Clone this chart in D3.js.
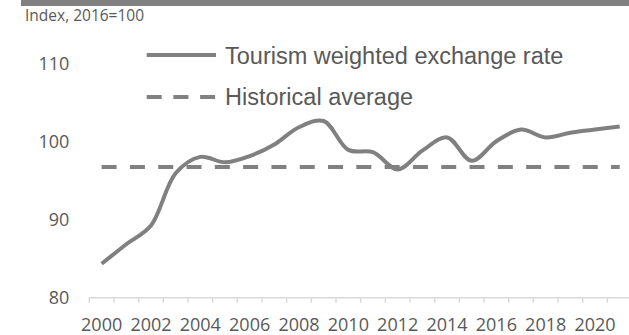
<!DOCTYPE html>
<html>
<head>
<meta charset="utf-8">
<script src="https://cdn.jsdelivr.net/npm/d3@7"></script>
<style>
  body { margin: 0; background: #fff; }
  svg { display: block; }
</style>
</head>
<body>
<svg></svg>
<script>
// size of the picture
var width = 629;
var height = 335;

// data
var years = [2000, 2001, 2002, 2003, 2004, 2005, 2006, 2007, 2008, 2009, 2010,
             2011, 2012, 2013, 2014, 2015, 2016, 2017, 2018, 2019, 2020, 2021];
var tourismRate = [84.3, 86.8, 89.2, 95.9, 98.0, 97.3, 98.1, 99.6, 101.8, 102.6, 98.9,
                   98.6, 96.4, 98.8, 100.5, 97.5, 100.0, 101.5, 100.5, 101.1, 101.5, 101.9];
var historicalAvg = 96.7;
var yTicks = [80, 90, 100, 110];
var legendLabels = ["Tourism weighted exchange rate", "Historical average"];

var lineColor = "#808080";
var textColor = "#595959";

var svg = d3.select("svg")
    .attr("width", width)
    .attr("height", height);

// grey strip on top
svg.append("rect")
    .attr("x", 21)
    .attr("y", 0)
    .attr("width", width - 21)
    .attr("height", 6)
    .attr("fill", "#808080");

svg.append("text")
    .attr("x", 25)
    .attr("y", 20.5)
    .style("font-family", "'Open Sans', sans-serif")
    .style("font-size", "15.5px")
    .attr("fill", textColor)
    .text("Index, 2016=100");

// scales
var x = d3.scaleBand()
    .domain(years)
    .range([89.3, 89.3 + 22 * 24.67]);

var y = d3.scaleLinear()
    .domain([80, 110])
    .range([297.3, 63.3]);

// y axis (labels only)
var yAxis = svg.append("g")
    .attr("transform", "translate(89.3,0)")
    .call(d3.axisLeft(y).tickValues(yTicks).tickSize(0).tickPadding(20));
yAxis.select(".domain").remove();
yAxis.selectAll("text")
    .style("font-family", "'Open Sans', sans-serif")
    .style("font-size", "18px")
    .attr("fill", textColor);

// x axis: line, ticks at band edges, labels on even years
var xAxis = svg.append("g")
    .attr("transform", "translate(0," + y(80) + ")")
    .call(d3.axisBottom(x)
        .tickValues(years.filter(function(d) { return d % 2 == 0; }))
        .tickSize(0)
        .tickPadding(20.5));
xAxis.select(".domain")
    .attr("stroke", "#d9d9d9")
    .attr("stroke-width", 1.5);
xAxis.selectAll("text")
    .style("font-family", "'Open Sans', sans-serif")
    .style("font-size", "18px")
    .attr("fill", textColor);

xAxis.selectAll(".edge")
    .data(years)
    .enter().append("line")
    .attr("class", "edge")
    .attr("x1", function(d) { return x(d); })
    .attr("x2", function(d) { return x(d); })
    .attr("y1", 0)
    .attr("y2", 5.5)
    .attr("stroke", "#d9d9d9")
    .attr("stroke-width", 1.5);

// historical average (dashed)
var avgLine = d3.line()
    .x(function(d) { return x(d) + x.bandwidth() / 2; })
    .y(function() { return y(historicalAvg); });

svg.append("path")
    .datum(years)
    .attr("d", avgLine)
    .attr("fill", "none")
    .attr("stroke", lineColor)
    .attr("stroke-width", 4)
    .attr("stroke-dasharray", "15,13.3");

// tourism weighted exchange rate (smoothed)
var rateLine = d3.line()
    .x(function(d, i) { return x(years[i]) + x.bandwidth() / 2; })
    .y(function(d) { return y(d); })
    .curve(d3.curveCatmullRom.alpha(0.5));

svg.append("path")
    .datum(tourismRate)
    .attr("d", rateLine)
    .attr("fill", "none")
    .attr("stroke", lineColor)
    .attr("stroke-width", 4)
    .attr("stroke-linejoin", "round");

// legend
var legend = svg.append("g");
var legendRows = [{ y: 55, dash: null, base: 63.5 }, { y: 97, dash: "15,11.7", base: 105 }];

legend.selectAll("line")
    .data(legendRows)
    .enter().append("line")
    .attr("x1", 146.7)
    .attr("x2", 216)
    .attr("y1", function(d) { return d.y; })
    .attr("y2", function(d) { return d.y; })
    .attr("stroke", lineColor)
    .attr("stroke-width", 4)
    .attr("stroke-dasharray", function(d) { return d.dash; });

legend.selectAll("text")
    .data(legendRows)
    .enter().append("text")
    .attr("x", 225)
    .attr("y", function(d) { return d.base; })
    .style("font-family", "'Liberation Sans', Arial, sans-serif")
    .style("font-size", "23.5px")
    .attr("fill", textColor)
    .text(function(d, i) { return legendLabels[i]; });
</script>
</body>
</html>
